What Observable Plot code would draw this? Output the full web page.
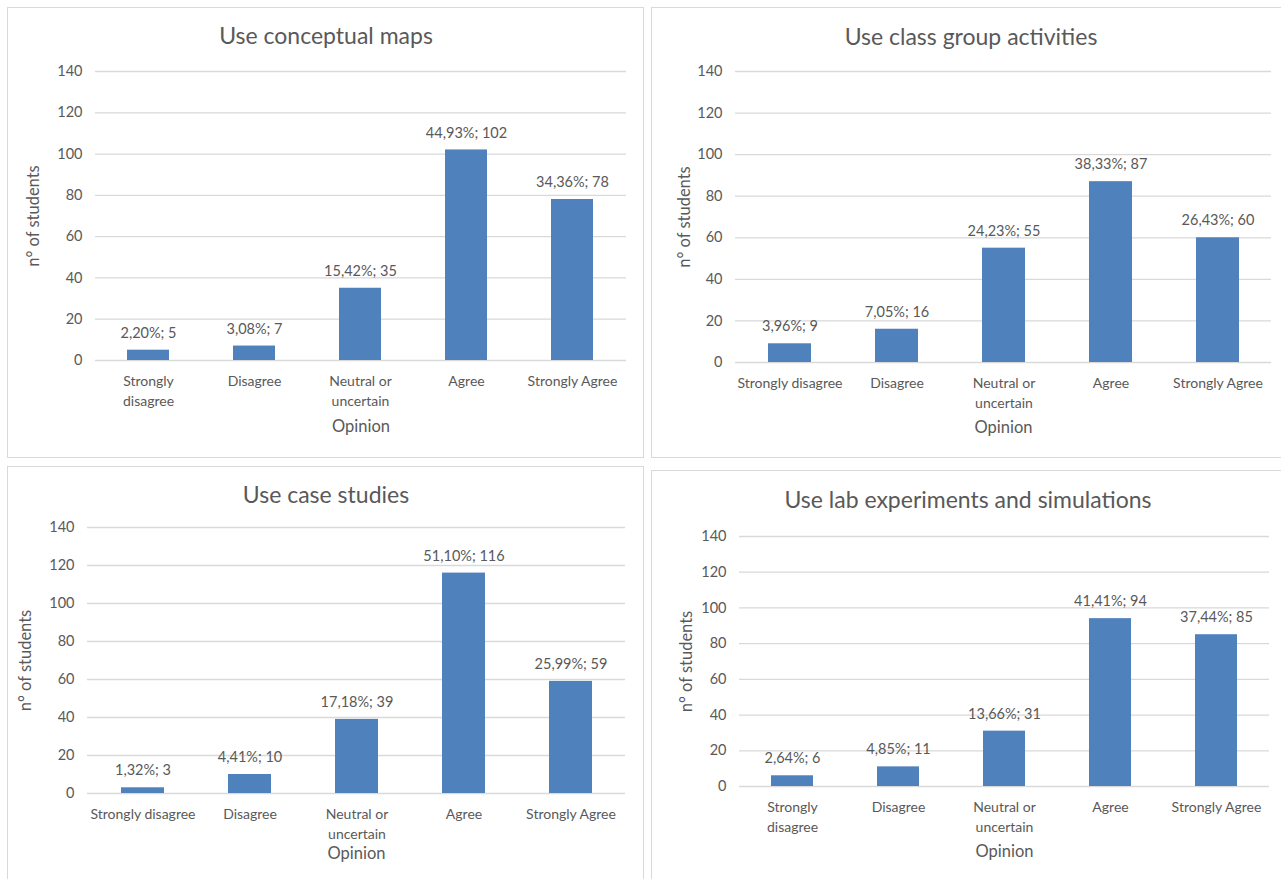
<!DOCTYPE html>
<html>
<head>
<meta charset="utf-8">
<script src="https://cdn.jsdelivr.net/npm/d3@7"></script>
<script src="https://cdn.jsdelivr.net/npm/@observablehq/plot@0.6"></script>
<style>
  html, body { margin: 0; padding: 0; background: #fff; overflow: hidden; }
  body { width: 1281px; height: 879px; position: relative; font-family: Lato, "Noto Sans", sans-serif; }
  .panel { position: absolute; border: 1.5px solid #d9d9d9; box-sizing: border-box; background: #fff; }
  .chart { position: absolute; }
  .title { position: absolute; width: 600px; text-align: center; font-size: 23px; line-height: 26px; color: #595959; white-space: nowrap; }
</style>
</head>
<body>
<script>
// Response categories (x axis)
const categories = ["Strongly disagree", "Disagree", "Neutral or uncertain", "Agree", "Strongly Agree"];

// Tick label variants (line breaks as drawn under the bars)
const tickLabelsWrapped = ["Strongly\ndisagree", "Disagree", "Neutral or\nuncertain", "Agree", "Strongly Agree"];
const tickLabelsFlat = ["Strongly disagree", "Disagree", "Neutral or\nuncertain", "Agree", "Strongly Agree"];

// y ticks
const yTicks = [0, 20, 40, 60, 80, 100, 120, 140];

// Chart titles
const titles = [
  "Use conceptual maps",
  "Use class group activities",
  "Use case studies",
  "Use lab experiments and simulations"
];

// Counts and shares per question
const countsMaps = [5, 7, 35, 102, 78];
const pctMaps = ["2,20%", "3,08%", "15,42%", "44,93%", "34,36%"];

const countsGroup = [9, 16, 55, 87, 60];
const pctGroup = ["3,96%", "7,05%", "24,23%", "38,33%", "26,43%"];

const countsCase = [3, 10, 39, 116, 59];
const pctCase = ["1,32%", "4,41%", "17,18%", "51,10%", "25,99%"];

const countsLab = [6, 11, 31, 94, 85];
const pctLab = ["2,64%", "4,85%", "13,66%", "41,41%", "37,44%"];

const xLabel = "Opinion";
const yLabel = "n° of students";

// Panel placement on the page
const layout = [
  {box: {left: 7, top: 7, w: 637, h: 451}, plot: {x0: 95, x1: 626, y0: 71, y1: 360}, titleX: 326, titleY: 35, ticks: tickLabelsWrapped, yLabelX: 33, opinionY: 426},
  {box: {left: 651, top: 7, w: 640, h: 451}, plot: {x0: 735, x1: 1271, y0: 71, y1: 362}, titleX: 971, titleY: 36, ticks: tickLabelsFlat, yLabelX: 684, opinionY: 427},
  {box: {left: 7, top: 466, w: 637, h: 430}, plot: {x0: 87, x1: 625, y0: 527, y1: 793}, titleX: 326, titleY: 494, ticks: tickLabelsFlat, yLabelX: 25, opinionY: 853},
  {box: {left: 651, top: 470, w: 635, h: 430}, plot: {x0: 739, x1: 1269, y0: 536, y1: 786}, titleX: 968, titleY: 499, ticks: tickLabelsWrapped, yLabelX: 686, opinionY: 851}
];

const series = [
  {counts: countsMaps, pct: pctMaps},
  {counts: countsGroup, pct: pctGroup},
  {counts: countsCase, pct: pctCase},
  {counts: countsLab, pct: pctLab}
];

const ink = "#595959";
const font = "Lato, 'Noto Sans', sans-serif";

layout.forEach((L, k) => {
  const {box, plot} = L;
  const rows = categories.map((c, i) => ({cat: c, n: series[k].counts[i], pct: series[k].pct[i]}));

  const panel = document.createElement("div");
  panel.className = "panel";
  Object.assign(panel.style, {left: box.left + "px", top: box.top + "px", width: box.w + "px", height: box.h + "px"});
  document.body.appendChild(panel);

  const chart = Plot.plot({
    width: box.w,
    height: box.h,
    marginLeft: plot.x0 - box.left,
    marginRight: box.left + box.w - plot.x1,
    marginTop: plot.y0 - box.top,
    marginBottom: box.top + box.h - plot.y1,
    style: {fontFamily: font, color: ink, background: "transparent", overflow: "visible"},
    x: {domain: categories, paddingInner: 0.6, paddingOuter: 0.3, label: null},
    y: {domain: [0, 140], label: null},
    marks: [
      Plot.gridY(yTicks, {stroke: "#d9d9d9", strokeOpacity: 1, strokeWidth: 1.3}),
      Plot.barY(rows, {x: "cat", y: "n", fill: "#4f81bd"}),
      Plot.text(rows, {x: "cat", y: "n", text: d => `${d.pct}; ${d.n}`, dy: -17, fontSize: 14.5, fill: ink}),
      Plot.axisY(yTicks, {tickSize: 0, tickPadding: 13, fontSize: 14.5, label: null, fill: ink}),
      Plot.axisX({tickSize: 0, tickPadding: 11, fontSize: 14, lineHeight: 1.43, label: null, fill: ink,
        tickFormat: d => L.ticks[categories.indexOf(d)]}),
      Plot.text([xLabel], {frameAnchor: "bottom", lineAnchor: "middle", dy: L.opinionY - plot.y1, fontSize: 16.5, fill: ink}),
      Plot.text([yLabel], {frameAnchor: "left", textAnchor: "middle", lineAnchor: "middle", rotate: -90, dx: L.yLabelX - plot.x0, fontSize: 16.5, fill: ink})
    ]
  });
  chart.classList.add("chart");
  Object.assign(chart.style, {left: box.left + "px", top: box.top + "px"});
  document.body.appendChild(chart);

  const t = document.createElement("div");
  t.className = "title";
  t.textContent = titles[k];
  Object.assign(t.style, {left: (L.titleX - 300) + "px", top: (L.titleY - 13) + "px"});
  document.body.appendChild(t);
});
</script>
</body>
</html>
